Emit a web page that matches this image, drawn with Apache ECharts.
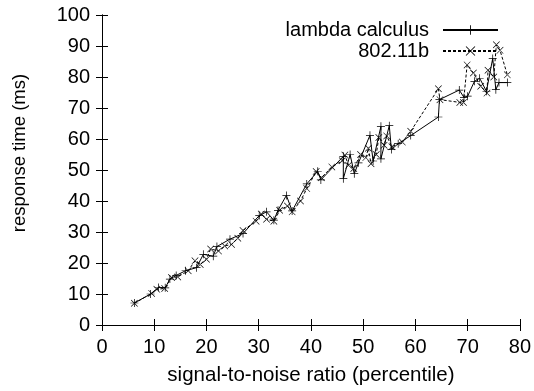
<!DOCTYPE html>
<html>
<head>
<meta charset="utf-8">
<script src="https://cdn.jsdelivr.net/npm/echarts@6/dist/echarts.min.js"></script>
<style>html,body{margin:0;padding:0;background:#fff}#c{width:534px;height:391px}</style>
</head>
<body>
<div id="c"></div>
<script>
var xTicks = [0, 10, 20, 30, 40, 50, 60, 70, 80];
var yTicks = [0, 10, 20, 30, 40, 50, 60, 70, 80, 90, 100];
var seriesNames = ['lambda calculus', '802.11b'];
var lambdaX = [6.2, 9.3, 10.8, 12.1, 13, 14.2, 16, 18.1, 19.4, 21.3, 22, 24.5, 27, 30.1, 31.5, 32.9, 33.7, 35.3, 36.4, 39.2, 41.3, 41.9, 46.2, 46.2, 47.5, 48.3, 49.1, 51.3, 51.9, 53.4, 53.4, 55, 55.4, 56.7, 59.1, 64.4, 64.6, 68.4, 69.3, 70, 71.3, 72.3, 73.6, 74.8, 75.4, 76, 77.6];
var lambdaY = [7.1, 10, 12.1, 12, 14.8, 16, 17.5, 18.5, 22.8, 22.2, 25.3, 27.7, 29.5, 35.3, 36.5, 33.8, 37, 41.8, 36.8, 45.5, 49.6, 46.8, 54.4, 47.2, 55, 48.8, 52.3, 61.2, 52.9, 64.1, 53.6, 64.3, 56.6, 58.5, 61.1, 67.1, 72.7, 75.8, 73.4, 73.8, 78.6, 79.6, 75.4, 86, 75.9, 78.2, 78.2];
var wlanX = [6.2, 9.5, 10.5, 12, 13.3, 14.5, 16.5, 17.8, 18.8, 20, 20.8, 22.3, 23.5, 24.8, 26, 27, 29.5, 30.5, 31.5, 32.9, 34, 35.5, 36.4, 38, 39.2, 41, 42, 44, 46, 46.5, 47.2, 48.2, 49.5, 50.5, 51, 51.5, 52.5, 53, 54, 54.5, 55.5, 57.5, 59.1, 64.4, 64.7, 68.5, 69.2, 69.9, 71.1, 72.5, 73.7, 73.9, 75, 75.5, 76.2, 77.6];
var wlanY = [7, 10.2, 11.5, 11.8, 15.3, 15.5, 17.5, 20.7, 19.5, 21.2, 24.5, 23.9, 25.5, 26, 28, 30.5, 33.5, 35.8, 34.1, 33.5, 37, 38.4, 36.5, 40, 44, 49.5, 47.5, 51, 53, 54.8, 51.5, 50.5, 55, 54, 57, 52, 55, 60.5, 58, 61, 57.5, 59, 62.5, 76.2, 72.7, 71.8, 71.8, 83.9, 81.3, 77, 74.8, 82.2, 80, 90.4, 88.6, 80.7];

function pairs(xs, ys) { return xs.map(function (x, i) { return [x, ys[i]]; }); }

var plusPath = 'path://M-1,-0.09L1,-0.09L1,0.09L-1,0.09Z M-0.09,-1L0.09,-1L0.09,1L-0.09,1Z';
var crossPath = 'path://M-1,-0.87L-0.87,-1L1,0.87L0.87,1Z M1,-0.87L0.87,-1L-1,0.87L-0.87,1Z';
var font = 'Liberation Sans, Arial, sans-serif';

var chart = echarts.init(document.getElementById('c'), null, { renderer: 'canvas' });
var axisCommon = {
  type: 'value',
  axisLine: { show: true, lineStyle: { color: '#000', width: 1 } },
  axisTick: { show: true, inside: true, length: 6, lineStyle: { color: '#000' } },
  splitLine: { show: false }
};
chart.setOption({
  animation: false,
  backgroundColor: '#fff',
  grid: { left: 102, right: 14, top: 15, bottom: 65 },
  legend: {
    orient: 'vertical',
    right: 30, top: 15,
    align: 'right',
    itemWidth: 55, itemHeight: 12, itemGap: 1,
    textStyle: { fontFamily: font, fontSize: 20, color: '#000', padding: [0, 9, 0, 0] },
    data: seriesNames
  },
  xAxis: [
    Object.assign({}, axisCommon, {
      min: xTicks[0], max: xTicks[xTicks.length - 1], interval: 10, position: 'bottom',
      axisLabel: { color: '#000', fontFamily: font, fontSize: 20, margin: 12 },
      name: 'signal-to-noise ratio (percentile)', nameLocation: 'middle', nameGap: 40,
      nameTextStyle: { color: '#000', fontFamily: font, fontSize: 20.5 }
    }),
    Object.assign({}, axisCommon, {
      min: xTicks[0], max: xTicks[xTicks.length - 1], interval: 10, position: 'top',
      axisLabel: { show: false }
    })
  ],
  yAxis: [
    Object.assign({}, axisCommon, {
      min: yTicks[0], max: yTicks[yTicks.length - 1], interval: 10, position: 'left',
      axisLabel: { color: '#000', fontFamily: font, fontSize: 20, margin: 12 }
    }),
    Object.assign({}, axisCommon, {
      min: yTicks[0], max: yTicks[yTicks.length - 1], interval: 10, position: 'right',
      axisLabel: { show: false }
    })
  ],
  graphic: [{
    type: 'text', rotation: Math.PI / 2, x: 20, y: 153,
    style: { text: 'response time (ms)', fontFamily: font, fontSize: 18.5, fill: '#000', align: 'center', verticalAlign: 'middle' }
  }],
  series: [
    {
      name: seriesNames[0], type: 'line', data: pairs(lambdaX, lambdaY),
      symbol: plusPath, symbolSize: 8, showAllSymbol: true,
      lineStyle: { color: '#000', width: 1, type: 'solid' },
      itemStyle: { color: '#000' }
    },
    {
      name: seriesNames[1], type: 'line', data: pairs(wlanX, wlanY),
      symbol: crossPath, symbolSize: 7, showAllSymbol: true,
      lineStyle: { color: '#000', width: 1, type: [3, 2] },
      itemStyle: { color: '#000' }
    }
  ]
});
</script>
</body>
</html>
